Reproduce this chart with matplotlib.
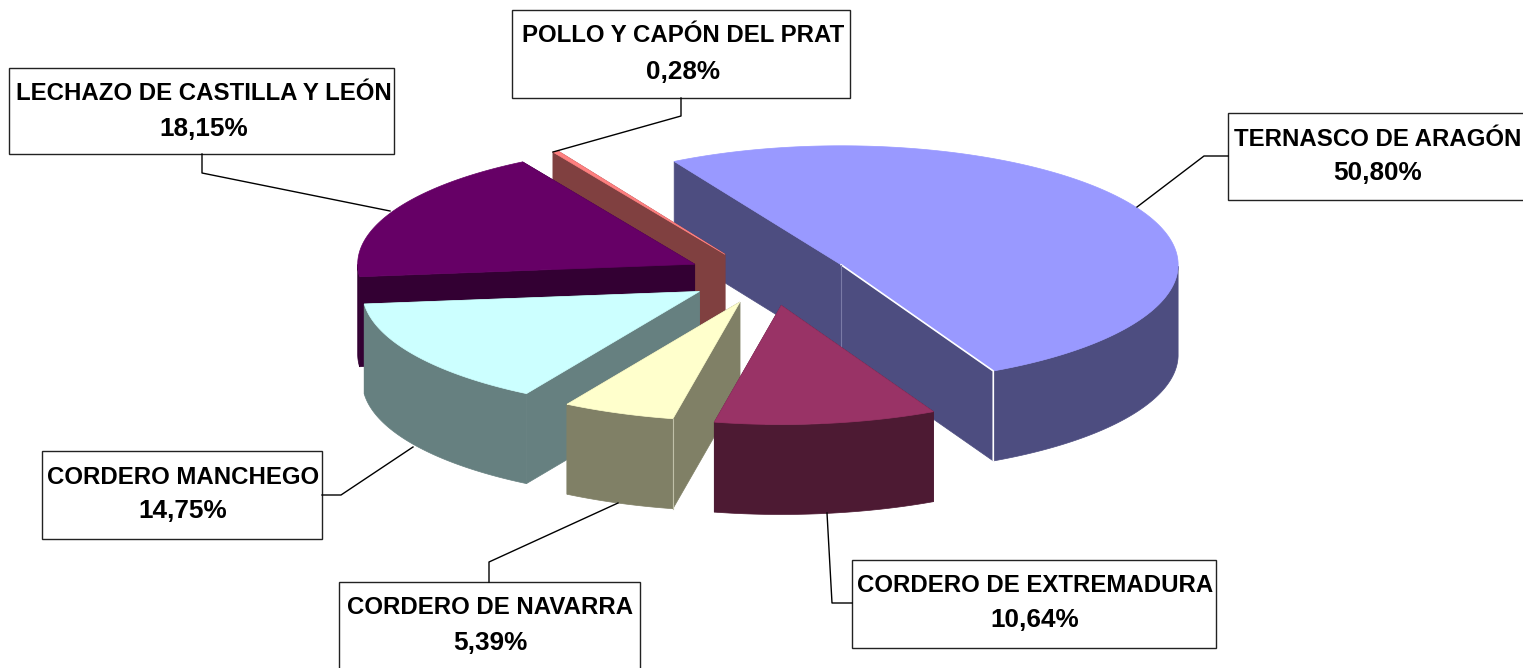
"""Tarta 3D con porciones separadas: reparto por denominaciones de carne."""
import numpy as np
import matplotlib
matplotlib.use('Agg')
import matplotlib.pyplot as plt
from matplotlib.patches import Polygon, Rectangle

plt.rcParams['font.family'] = ['Liberation Sans', 'DejaVu Sans']

# datos, en el orden de la tarta (sentido horario)
categorias = ['TERNASCO DE ARAGÓN', 'CORDERO DE EXTREMADURA', 'CORDERO DE NAVARRA',
              'CORDERO MANCHEGO', 'LECHAZO DE CASTILLA Y LEÓN', 'POLLO Y CAPÓN DEL PRAT']
valores = [50.80, 10.64, 5.39, 14.75, 18.15, 0.28]
etiquetas = ['50,80%', '10,64%', '5,39%', '14,75%', '18,15%', '0,28%']

# estilo
color_top = ['#9999FF', '#993366', '#FFFFCC', '#CCFFFF', '#660066', '#FF8080']
color_lado = ['#4D4D80', '#4D1A33', '#808066', '#668080', '#330033', '#804040']
explode = [0.27, 0.25, 0.19, 0.21, 0.24, 0.23]
ajuste_x = [1, 10, 3, -1, 7, 4]
ajuste_y = [0, -4, 1, -2, -3, -2]
orden_dibujo = [0, 5, 4, 3, 2, 1]

CX, CY, RX, RY, FONDO = 760, 280, 337, 119, 90
ANGULO_INICIO = 240.3

# cajas: x0, y0, x1, y1
cajas = [(1228, 113, 1530, 200), (852, 560, 1216, 648), (339, 582, 640, 675),
         (42, 451, 322, 539), (9, 68, 394, 154), (512, 10, 850, 98)]
centro_texto = [1378, 1035, 490, 183, 204, 683]
lineas_texto = [(139, 173), (586, 620), (608, 643), (477, 511), (93, 129), (35, 72)]
guias = [[(1228, 156), (1204, 156), (1137, 207)],
         [(852, 603), (832, 603), (827, 513)],
         [(489, 582), (489, 562), (618, 503)],
         [(322, 495), (341, 495), (413, 447)],
         [(202, 154), (202, 173), (390, 211)],
         [(681, 98), (681, 116), (553, 152)]]


def punto(t):
    return np.array([RX * np.cos(np.radians(t)), RY * np.sin(np.radians(t))])


def dibuja_porcion(ax, i, t0, t1):
    med = (t0 + t1) / 2
    apice = np.array([CX + ajuste_x[i], CY + ajuste_y[i]]) + explode[i] * punto(med)
    ts = np.linspace(t0, t1, 200)
    arco = apice + np.column_stack([RX * np.cos(np.radians(ts)), RY * np.sin(np.radians(ts))])
    abajo = np.array([0, FONDO])

    # caras de corte
    for t in (t0, t1):
        p = apice + punto(t)
        ax.add_patch(Polygon([apice, p, p + abajo, apice + abajo], fc=color_lado[i],
                             ec=color_lado[i], lw=0.5, zorder=1))
    # pared exterior, solo lo que mira hacia delante
    vis = np.sin(np.radians(ts)) >= 0
    if vis.sum() > 1:
        ax.add_patch(Polygon(np.vstack([arco[vis], arco[vis][::-1] + abajo]), fc=color_lado[i],
                             ec=color_lado[i], lw=0.5, zorder=1))
    ax.add_patch(Polygon(np.vstack([[apice], arco]), fc=color_top[i], ec=color_top[i],
                         lw=0.5, zorder=1))
    # aristas claras
    p1 = apice + punto(t0)
    if i == 0:
        p0 = apice + punto(t1 - 360)
        ax.plot([apice[0], p0[0], p0[0]], [apice[1], p0[1], p0[1] + FONDO], color='white',
                lw=1.2, zorder=1)
        ax.plot([apice[0], apice[0]], [apice[1], apice[1] + FONDO], color='#7A7AA6',
                lw=0.8, zorder=1)
    elif i == 2:
        ax.plot([p1[0], p1[0]], [p1[1], p1[1] + FONDO], color='#C0C0A8', lw=0.8, zorder=1)


fig = plt.figure(figsize=(15.23, 6.68), dpi=100)
ax = fig.add_axes([0, 0, 1, 1])
ax.set_xlim(0, 1523)
ax.set_ylim(668, 0)
ax.axis('off')

angulos = [ANGULO_INICIO]
for v in valores:
    angulos.append(angulos[-1] + v / sum(valores) * 360)

for i in orden_dibujo:
    dibuja_porcion(ax, i, angulos[i], angulos[i + 1])

for i, cat in enumerate(categorias):
    x0, y0, x1, y1 = cajas[i]
    ax.add_patch(Rectangle((x0, y0), x1 - x0, y1 - y0, fc='white', ec='#222222', lw=1, zorder=3))
    ax.plot(*zip(*guias[i]), color='black', lw=1, zorder=3)
    ax.text(centro_texto[i], lineas_texto[i][0], cat, fontsize=17.3, fontweight='bold',
            ha='center', va='center', zorder=4)
    ax.text(centro_texto[i], lineas_texto[i][1], etiquetas[i], fontsize=18.8, fontweight='bold',
            ha='center', va='center', zorder=4)

fig.savefig('out.png', dpi=100)
